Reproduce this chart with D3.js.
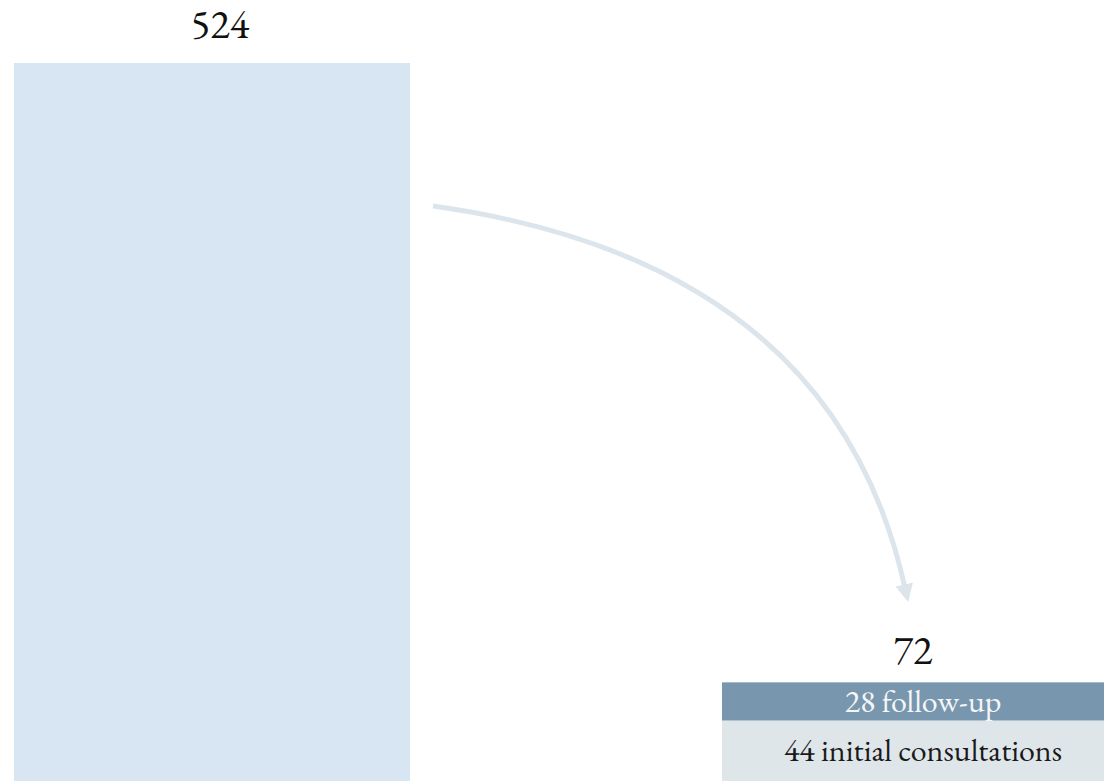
<!DOCTYPE html>
<html>
<head>
<meta charset="utf-8">
<script src="https://cdn.jsdelivr.net/npm/d3@7"></script>
<style>
  body { margin: 0; background: #fff; }
  svg text { font-family: "EB Garamond", Garamond, "Liberation Serif", serif; }
</style>
</head>
<body>
<div id="chart"></div>
<script>
// totals for the two bars
const totals = [524, 72];
// breakdown of the smaller bar, top to bottom
const partLabels = ["follow-up", "initial consultations"];
const partValues = [28, 44];

const size = { width: 1104, height: 781 };
const margin = { top: 63, bottom: 0 };

const svg = d3.select("#chart")
  .append("svg")
  .attr("width", size.width)
  .attr("height", size.height);

// one shared vertical scale for both bars
const y = d3.scaleLinear()
  .domain([0, totals[0]])
  .range([size.height - margin.bottom, margin.top]);

// horizontal positions of the two columns
const x = d3.scaleOrdinal()
  .domain([0, 1])
  .range([14, 722]);
const barWidth = [396, 382];

// big bar
svg.append("rect")
  .attr("x", x(0))
  .attr("y", y(totals[0]))
  .attr("width", barWidth[0])
  .attr("height", y(0) - y(totals[0]))
  .attr("fill", "#d8e5f2");

// stacked parts of the small bar
let acc = totals[1];
const parts = partValues.map((v, i) => {
  const top = acc;
  acc -= v;
  return { label: partLabels[i], value: v, top, bottom: acc };
});
const partFill = ["#7896ad", "#dfe6ea"];
const partText = ["#f4f6f8", "#1a1a1a"];

svg.selectAll(".part")
  .data(parts)
  .join("rect")
  .attr("class", "part")
  .attr("x", x(1))
  .attr("y", (d) => y(d.top))
  .attr("width", barWidth[1])
  .attr("height", (d) => y(d.bottom) - y(d.top))
  .attr("fill", (d, i) => partFill[i]);

// labels sit a little right of the bar centre, like the original
svg.selectAll(".partLabel")
  .data(parts)
  .join("text")
  .attr("class", "partLabel")
  .attr("x", x(1) + barWidth[1] / 2 + 10)
  .attr("y", (d) => (y(d.bottom) + y(d.top)) / 2)
  .attr("dy", "0.33em")
  .attr("text-anchor", "middle")
  .attr("font-size", 32)
  .attr("fill", (d, i) => partText[i])
  .text((d) => `${d.value} ${d.label}`);

// totals above the bars
const totalGap = [25.5, 18];
svg.selectAll(".total")
  .data(totals)
  .join("text")
  .attr("class", "total")
  .attr("x", (d, i) => x(i) + barWidth[i] / 2 + (i === 0 ? 8 : 0))
  .attr("y", (d, i) => y(d) - totalGap[i])
  .attr("text-anchor", "middle")
  .attr("font-size", 40.5)
  .attr("fill", "#111")
  .text((d) => d);

// curved arrow between the bars
svg.append("defs")
  .append("marker")
  .attr("id", "head")
  .attr("viewBox", "0 0 10 10")
  .attr("refX", 2)
  .attr("refY", 5)
  .attr("markerWidth", 3.6)
  .attr("markerHeight", 3.6)
  .attr("orient", "auto")
  .append("path")
  .attr("d", "M0,0 L10,5 L0,10 Z")
  .attr("fill", "#dde5ec");

const start = [x(0) + barWidth[0] + 23, 206];
const end = [905, 588];
const ctrl = [833, 262];
const p = d3.path();
p.moveTo(start[0], start[1]);
p.quadraticCurveTo(ctrl[0], ctrl[1], end[0], end[1]);

svg.append("path")
  .attr("d", p.toString())
  .attr("fill", "none")
  .attr("stroke", "#dde5ec")
  .attr("stroke-width", 5)
  .attr("marker-end", "url(#head)");
</script>
</body>
</html>
